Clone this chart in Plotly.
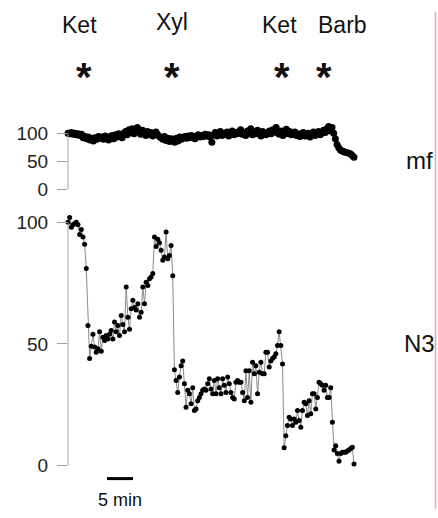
import numpy as np
import plotly.graph_objects as go

W, H = 438, 518
SY = 1.015   # small vertical correction measured from previous renders

# ---- data ----
TOTAL_MIN = 55  # recording length, minutes
mf_values = [
    100, 99, 101, 98, 100, 97, 99, 96, 98,
    92, 94, 90, 93, 88, 91, 86, 92, 89, 94,
    91, 93, 89, 95, 92, 88, 94, 96, 90, 97, 93, 99, 95, 92,
    100, 103, 97, 106, 101, 108, 99, 104, 110, 102, 98, 105,
    100, 96, 103, 98, 101, 95, 99, 102, 97, 94,
    92, 89, 94, 87, 91, 85, 90, 88, 84, 91, 86, 93, 89, 92,
    94, 91, 95, 92, 96, 93, 90, 95, 97, 93, 96, 94, 98, 95, 97, 93,
    84,
    97, 101, 95, 99, 103, 96, 100, 98, 102, 95, 99, 104, 97, 101,
    99, 103, 106, 98, 101, 96, 104, 100, 108, 97, 102, 99, 105, 101, 95, 103, 100,
    97, 101, 104, 99, 106, 102, 110, 100, 98, 104, 96, 101, 107, 99, 103, 97, 100, 102,
    96, 99, 94, 98, 101, 95, 97, 100, 93, 98, 102, 96, 99, 103, 97, 100,
    105, 101, 108, 112, 104, 110,
    100, 90, 80, 74, 70, 68, 67, 66, 65, 64, 63, 60, 57,
]
n3_values = [
    100, 102, 98, 99, 99.5, 100, 99, 95, 97, 94, 91, 81, 57.6, 44, 49, 54,
    48.7, 46.6, 48, 55, 47, 52.8, 51.4, 53.5, 52, 54, 55.5, 52, 59, 55, 57.6,
    53.5, 61.7, 58, 55, 73.4, 61, 56, 64.5, 68, 65, 64, 66.5, 61, 63, 73.4,
    66.5, 75.4, 74, 76.8, 77.5, 79, 94, 90, 93, 91.6, 88.5, 84.4, 85.7, 96,
    85, 86.4, 90.5, 78, 39.4, 35, 30, 36.4, 41, 43, 33.6, 24, 31, 29.5, 25.4,
    32, 22.6, 23.3, 26.7, 28, 29.5, 31, 31.5, 31, 33.6, 35.7, 31.5, 29.5, 35,
    29.5, 35.7, 32, 29.5, 35.7, 33, 30, 36.4, 33.6, 30, 28, 27.4, 34.3, 35,
    34.3, 34.3, 30, 26.7, 39, 28, 39, 26, 42.5, 37.7, 41, 29.5, 38.4, 42.5,
    37.7, 37.7, 46.6, 46.6, 40.5, 43, 44, 44.6, 46, 49.4, 55, 49.4, 41.8, 7.3,
    12.3, 16.5, 19.9, 19.2, 16.5, 19.2, 17.8, 22.6, 18.5, 15.8, 22.6, 26, 25.4,
    20.6, 26.7, 21.3, 29.5, 29.5, 23.3, 28, 34.3, 33.6, 33, 31, 33, 28, 28, 32,
    17.8, 6.4, 8.2, 5, 1.8, 5, 5.5, 5.5, 5.5, 6, 6.4, 7, 7.5, 0.7,
]
y_ticks = [0, 50, 100]
drug_labels = ["Ket", "Xyl", "Ket", "Barb"]
drug_label_min = [2.3, 20.0, 40.6, 52.7]      # label centre (min)
drug_star_min = [3.1, 20.0, 41.2, 49.2]       # injection time (min)
trace_names = ["mf", "N3"]
scale_bar_start = 7.5   # min
scale_bar_len = 5       # min
scale_bar_text = "5 min"

t_mf = np.linspace(0, TOTAL_MIN, len(mf_values))
t_n3 = np.linspace(0, TOTAL_MIN, len(n3_values))

# ---- pixel helpers ----
def fx(px):
    return px / W

def fy(py):
    return 1 - py * SY / H

X0, X1 = 68, 354          # pixels of t=0 and t=TOTAL_MIN
# bottom panel: 0 -> 465 px, 100 -> 222 px
b_ppu = (465 - 222) / 100
b_rng = [-3, 105]
b_dom = [fy(465 - b_rng[0] * b_ppu), fy(465 - b_rng[1] * b_ppu)]
# top panel: 0 -> 189 px, 100 -> 133 px
t_ppu = (189 - 133) / 100
t_rng = [-6, 125]
t_dom = [fy(189 - t_rng[0] * t_ppu), fy(189 - t_rng[1] * t_ppu)]

AX = "#a0a0a0"
FONT = "Liberation Sans, Arial, sans-serif"
TXT = "#111111"

fig = go.Figure()
fig.add_trace(go.Scatter(
    x=t_mf, y=mf_values, mode="lines+markers", xaxis="x", yaxis="y2",
    line=dict(color="#888888", width=1),
    marker=dict(color="black", size=7), cliponaxis=False, showlegend=False,
    hoverinfo="skip"))
fig.add_trace(go.Scatter(
    x=t_n3, y=n3_values, mode="lines+markers", xaxis="x", yaxis="y",
    line=dict(color="#8c8c8c", width=1),
    marker=dict(color="black", size=5), cliponaxis=False, showlegend=False,
    hoverinfo="skip"))

yax_common = dict(tickvals=y_ticks, ticks="outside", ticklen=10, tickwidth=1,
                  tickcolor=AX, showline=False, showgrid=False, zeroline=False,
                  ticklabelstandoff=5,
                  tickfont=dict(family=FONT, size=19, color="#222222"),
                  anchor="x")
fig.update_layout(
    width=W, height=H, margin=dict(l=0, r=0, t=0, b=0),
    paper_bgcolor="white", plot_bgcolor="white",
    xaxis=dict(domain=[fx(X0), fx(X1)], range=[0, TOTAL_MIN], visible=False),
    yaxis=dict(domain=b_dom, range=b_rng, **yax_common),
    yaxis2=dict(domain=t_dom, range=t_rng, **yax_common),
)

# y axis lines (0..100 only)
for yr in ["y", "y2"]:
    fig.add_shape(type="line", xref="x domain", x0=0, x1=0, yref=yr,
                  y0=y_ticks[0], y1=y_ticks[-1], line=dict(color=AX, width=1))

def note(x, xref, py, text, size):
    fig.add_annotation(x=x, xref=xref, y=fy(py), yref="paper", text=text,
                       showarrow=False, xanchor="center", yanchor="middle",
                       font=dict(family=FONT, size=size, color=TXT))

# drug labels and stars
label_py = [25, 22, 25, 25]
for lab, tm, py in zip(drug_labels, drug_label_min, label_py):
    note(tm, "x", py, lab, 23)
for tm in drug_star_min:
    note(tm, "x", 77, "<b>*</b>", 40)

# trace names on the right
note(fx(419), "paper", 160, trace_names[0], 24)
note(fx(419), "paper", 343, trace_names[1], 24)

# scale bar
fig.add_shape(type="line", xref="x", yref="paper", x0=scale_bar_start,
              x1=scale_bar_start + scale_bar_len, y0=fy(478), y1=fy(478),
              line=dict(color="black", width=3))
note(scale_bar_start + scale_bar_len / 2, "x", 499, scale_bar_text, 18)

# pale red frame line on the right
fig.add_shape(type="line", xref="paper", yref="paper", x0=fx(435.5), x1=fx(435.5),
              y0=fy(12), y1=fy(508), line=dict(color="#f2a0a0", width=1.5))

fig.write_html("out.html", config={"displayModeBar": False},
               post_script="document.body.style.margin='0';document.body.style.overflow='hidden';")
